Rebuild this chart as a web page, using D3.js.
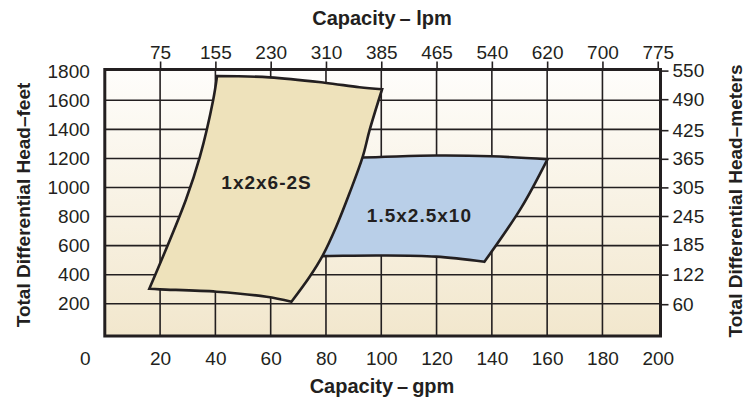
<!DOCTYPE html>
<html>
<head>
<meta charset="utf-8">
<script src="https://cdn.jsdelivr.net/npm/d3@7"></script>
<style>
  body { margin: 0; background: #fff; }
  svg text { font-family: "Liberation Sans", Arial, sans-serif; fill: #231f20; }
</style>
</head>
<body>
<div id="chart"></div>
<script>
// chart values
const gpmTicks = [0, 20, 40, 60, 80, 100, 120, 140, 160, 180, 200];
const lpmLabels = ['75', '155', '230', '310', '385', '465', '540', '620', '700', '775'];
const feetTicks = [200, 400, 600, 800, 1000, 1200, 1400, 1600, 1800];
const meterTicks = [60, 122, 185, 245, 305, 365, 425, 490, 550];

// pump envelopes as [gpm, feet], one array per edge so corners stay sharp
const pumpSmall = [
  [[40.6, 1767], [59.6, 1758], [79.5, 1721], [92.1, 1690], [100.3, 1676]],
  [[100.3, 1676], [95.8, 1396], [93.3, 1212], [88.5, 960], [83.7, 730], [78.9, 535], [74.1, 386], [67.5, 214]],
  [[67.5, 214], [58.5, 248], [40.4, 283], [19.9, 299], [16.1, 303]],
  [[16.1, 303], [29.3, 914], [34.4, 1212], [39.2, 1602], [40.6, 1767]]
];
const pumpLarge = [
  [[70.5, 1205], [92.9, 1206], [119.8, 1220], [139.7, 1215], [160.1, 1194]],
  [[160.1, 1194], [150.6, 860], [137.3, 489]],
  [[137.3, 489], [119.8, 524], [99.4, 532], [78.3, 528], [66.9, 528]],
  [[66.9, 528], [70.5, 1205]]
];
const pumpNames = ['1x2x6-2S', '1.5x2.5x10'];
const nameSpots = [[58.5, 988], [113.8, 765]];

const W = 751, H = 400;
const FT_TO_M = 0.3048;

const xScale = d3.scaleLinear().domain([0, 201]).range([104.8, 660.5]);
const yScale = d3.scaleLinear().domain([-22, 1812]).range([336, 69.5]);
const yMeters = d3.scaleLinear()
  .domain(yScale.domain().map(d => d * FT_TO_M))
  .range(yScale.range());

const svg = d3.select('#chart').append('svg')
  .attr('width', W).attr('height', H);

// background fade
const grad = svg.append('defs').append('linearGradient')
  .attr('id', 'bg').attr('x1', 0).attr('y1', 0).attr('x2', 0).attr('y2', 1);
grad.append('stop').attr('offset', '0%').attr('stop-color', '#fefdfb');
grad.append('stop').attr('offset', '100%').attr('stop-color', '#f2e7cd');

const [x0, x1] = xScale.range();
const [y0, y1] = yScale.range(); // y0 bottom, y1 top

svg.append('rect')
  .attr('x', x0).attr('y', y1)
  .attr('width', x1 - x0).attr('height', y0 - y1)
  .attr('fill', 'url(#bg)');

// grid
const grid = svg.append('g').attr('stroke', '#231f20').attr('stroke-width', 1.6);
grid.selectAll('.vg')
  .data(gpmTicks.filter(d => d > 0 && d < 200))
  .join('line')
  .attr('x1', d => xScale(d)).attr('x2', d => xScale(d))
  .attr('y1', y1).attr('y2', y0);
grid.selectAll('.hg')
  .data(feetTicks.filter(d => d < 1800))
  .join('line')
  .attr('x1', x0).attr('x2', x1)
  .attr('y1', d => yScale(d)).attr('y2', d => yScale(d));

// envelope paths
const edge = d3.line()
  .x(d => xScale(d[0]))
  .y(d => yScale(d[1]))
  .curve(d3.curveCatmullRom.alpha(0.5));

function envelope(edges) {
  return edges.map((e, i) => {
    const s = edge(e);
    return i === 0 ? s : s.replace(/^M/, 'L');
  }).join('') + 'Z';
}

svg.append('path')
  .attr('d', envelope(pumpLarge))
  .attr('fill', '#b9cfe8')
  .attr('stroke', '#231f20')
  .attr('stroke-width', 2.6)
  .attr('stroke-linejoin', 'miter');

svg.append('path')
  .attr('d', envelope(pumpSmall))
  .attr('fill', '#eee2bb')
  .attr('stroke', '#231f20')
  .attr('stroke-width', 2.6)
  .attr('stroke-linejoin', 'miter');

svg.selectAll('.pname')
  .data(pumpNames)
  .join('text')
  .attr('x', (d, i) => xScale(nameSpots[i][0]))
  .attr('y', (d, i) => yScale(nameSpots[i][1]))
  .attr('text-anchor', 'middle')
  .attr('font-weight', 'bold')
  .attr('font-size', 19)
  .attr('letter-spacing', 1)
  .text(d => d);

// frame
svg.append('rect')
  .attr('x', x0).attr('y', y1)
  .attr('width', x1 - x0).attr('height', y0 - y1)
  .attr('fill', 'none')
  .attr('stroke', '#231f20')
  .attr('stroke-width', 3);

// axes
function styleAxis(g, size) {
  g.select('.domain').remove();
  g.selectAll('.tick line').attr('stroke', '#231f20').attr('stroke-width', 1.6);
  g.selectAll('.tick text')
    .attr('font-size', size)
    .attr('fill', '#231f20')
    .style('font-family', '"Liberation Sans", Arial, sans-serif');
}

// bottom gpm
svg.append('g')
  .attr('transform', `translate(0,${y0})`)
  .call(d3.axisBottom(xScale).tickValues(gpmTicks).tickSize(0).tickPadding(16))
  .call(g => styleAxis(g, 19))
  .call(g => g.selectAll('.tick text').filter(d => d === 0).attr('dx', -20));

// top lpm (labels sit on the gpm grid)
svg.append('g')
  .attr('transform', `translate(0,${y1})`)
  .call(d3.axisTop(xScale)
    .tickValues(gpmTicks.slice(1))
    .tickSize(8).tickPadding(3)
    .tickFormat((d, i) => lpmLabels[i]))
  .call(g => styleAxis(g, 19));

// left feet
svg.append('g')
  .attr('transform', `translate(${x0},0)`)
  .call(d3.axisLeft(yScale).tickValues(feetTicks).tickSize(0).tickPadding(15)
    .tickFormat(d3.format('d')))
  .call(g => styleAxis(g, 19));

// right meters
svg.append('g')
  .attr('transform', `translate(${x1},0)`)
  .call(d3.axisRight(yMeters).tickValues(meterTicks).tickSize(8).tickPadding(4)
    .tickFormat(d3.format('d')))
  .call(g => styleAxis(g, 19));

// titles
svg.append('text')
  .attr('x', 382).attr('y', 25)
  .attr('text-anchor', 'middle').attr('font-weight', 'bold').attr('font-size', 20)
  .text('Capacity\u2009\u2013 lpm');

svg.append('text')
  .attr('x', 382).attr('y', 393)
  .attr('text-anchor', 'middle').attr('font-weight', 'bold').attr('font-size', 20)
  .text('Capacity\u2009\u2013\u2009gpm');

svg.append('text')
  .attr('transform', 'translate(30,205) rotate(-90)')
  .attr('text-anchor', 'middle').attr('font-weight', 'bold').attr('font-size', 19)
  .text('Total Differential Head\u2013feet');

svg.append('text')
  .attr('transform', 'translate(742,201) rotate(-90)')
  .attr('text-anchor', 'middle').attr('font-weight', 'bold').attr('font-size', 19)
  .text('Total Differential Head\u2013meters');
</script>
</body>
</html>
